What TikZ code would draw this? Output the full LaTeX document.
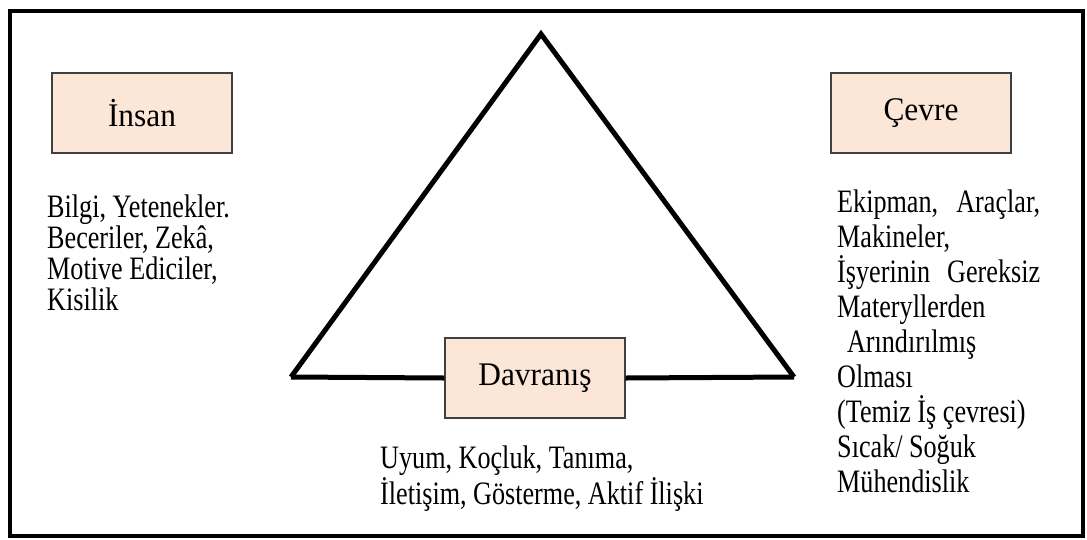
\documentclass[tikz,border=0pt]{standalone}
\usepackage{fontspec}
\setmainfont{Liberation Serif}
\newfontfamily\narrowserif[FakeStretch=0.8]{Liberation Serif}
\newfontfamily\labelserif[FakeStretch=0.95]{Liberation Serif}
\usepackage{tikz}
\usepackage{xcolor}
\definecolor{peach}{HTML}{FBE6D8}
\definecolor{boxline}{HTML}{404040}

\begin{document}
\begin{tikzpicture}[
x=1pt, y=-1pt,
box/.style={draw=boxline, line width=1.4pt, fill=peach, minimum width=180pt, minimum height=80pt, font=\labelserif\fontsize{33}{36}\selectfont},
txt/.style={anchor=base west, align=left, inner sep=0pt, font=\narrowserif\fontsize{32.7}{31}\selectfont},
edge/.style={line width=5pt, line join=miter}
]
\useasboundingbox (0,0) rectangle (1087,539);
\draw[line width=4pt] (10,11) rectangle (1083,536);
\coordinate (apex) at (541,34);
\coordinate (lcorner) at (291,377);
\coordinate (rcorner) at (794,377);
\node[box] (insan) at (142,113) {İnsan};
\node[box] (cevre) at (921,113) {Çevre};
\node[box] (davranis) at (535,378) {Davranış};
\draw[edge] (lcorner) -- (apex) -- (rcorner);
\draw[edge] (lcorner) -- (davranis.west);
\draw[edge] (davranis.east) -- (rcorner);
% base anchor sits on the last line
\node[txt] (insantxt) at (47,310) {Bilgi, Yetenekler.\\Beceriler, Zekâ,\\Motive Ediciler,\\Kisilik};
\node[txt, font=\narrowserif\fontsize{32.7}{35}\selectfont] (cevretxt) at (837,492)
  {\makebox[203pt][s]{Ekipman, Araçlar,}\\Makineler,\\\makebox[203pt][s]{İşyerinin Gereksiz}\\Materyllerden\\\hspace*{0.3em}Arındırılmış\\Olması\\(Temiz İş çevresi)\\Sıcak/ Soğuk\\Mühendislik};
\node[txt, font=\narrowserif\fontsize{32.7}{36}\selectfont] (davranistxt) at (380,504) {Uyum, Koçluk, Tanıma,\\İletişim, Gösterme, Aktif İlişki};
\end{tikzpicture}
\end{document}
